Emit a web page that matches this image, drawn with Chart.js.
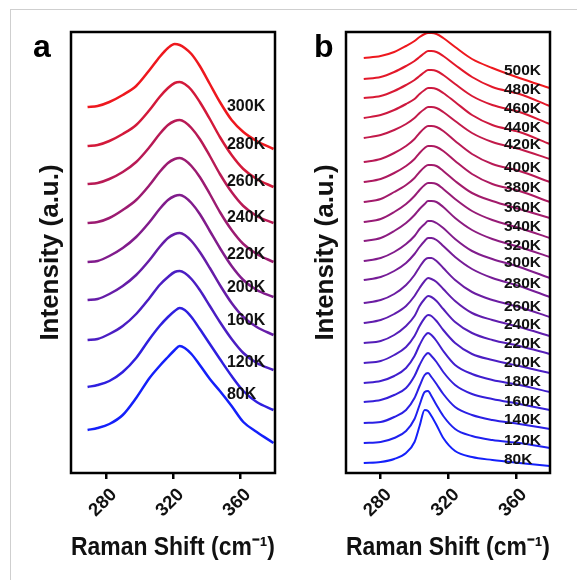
<!DOCTYPE html>
<html>
<head>
<meta charset="utf-8">
<script src="https://cdn.jsdelivr.net/npm/chart.js@4.4.1/dist/chart.umd.min.js"></script>
<style>
  html, body { margin: 0; padding: 0; background: #fff; }
  body { width: 577px; height: 580px; position: relative; overflow: hidden; font-family: "Liberation Sans", Arial, sans-serif; }
  #frame { position: absolute; left: 10px; top: 9px; width: 600px; height: 600px; border: 1px solid #cfcfcf; }
  canvas { position: absolute; top: 0; }
  #chartA { left: 0; }
  #chartB { left: 290px; }
  .panel { position: absolute; font-weight: bold; font-size: 32px; line-height: 1; color: #000; }
</style>
</head>
<body>
<div id="frame"></div>
<canvas id="chartA" width="290" height="580"></canvas>
<canvas id="chartB" width="287" height="580"></canvas>
<div class="panel" style="left:33px; top:30px;">a</div>
<div class="panel" style="left:314px; top:30px;">b</div>

<script>
// --- Data: panel a (Raman shift grid, cm-1) ---
const xA = [269, 275, 282, 290, 298, 306, 312, 317, 321, 324, 327, 331, 336, 342, 348, 355, 362, 370, 380];
const tempsA = ['80K', '120K', '160K', '200K', '220K', '240K', '260K', '280K', '300K'];
const a80  = [43, 45, 49, 58, 75, 95, 107, 116, 123, 127, 125, 119, 108, 94, 82, 67, 51, 41, 30];
const a120 = [86, 88, 92, 101, 115, 134, 147, 156, 162, 165, 163, 156, 144, 129, 114, 97, 82, 71, 63];
const a160 = [133, 134, 139, 147, 159, 175, 188, 196, 201, 202, 200, 194, 183, 167, 151, 134, 120, 110, 103];
const a200 = [173, 174, 179, 187, 198, 213, 226, 235, 239, 240, 238, 232, 221, 205, 188, 170, 156, 146, 138];
const a220 = [211, 212, 217, 225, 236, 251, 264, 273, 277, 278, 276, 270, 259, 242, 225, 207, 193, 183, 176];
const a240 = [250, 251, 255, 263, 273, 288, 301, 310, 314, 315, 313, 307, 296, 279, 261, 243, 229, 219, 211];
const a260 = [289, 290, 294, 301, 311, 326, 339, 348, 352, 353, 351, 345, 334, 317, 299, 281, 267, 257, 250];
const a280 = [327, 328, 332, 339, 348, 363, 376, 385, 390, 391, 389, 383, 371, 354, 336, 318, 304, 294, 286];
const a300 = [366, 367, 371, 378, 387, 403, 416, 425, 429, 428, 425, 419, 407, 389, 371, 353, 341, 332, 324];
const seriesA = [a80, a120, a160, a200, a220, a240, a260, a280, a300];
const labelYA = [78, 110, 152, 185, 218, 255, 291, 328, 366];

// --- Data: panel b ---
const xB = [270, 280, 288, 295, 300, 303, 306, 308, 310, 313, 317, 324, 334, 346, 362, 380];
const tempsB = ['80K', '120K', '140K', '160K', '180K', '200K', '220K', '240K', '260K', '280K', '300K',
  '320K', '340K', '360K', '380K', '400K', '420K', '440K', '460K', '480K', '500K'];
const b80  = [10, 11, 14, 20, 31, 47, 63, 62, 57, 48, 35, 22, 16, 13, 10, 7];
const b120 = [30, 31, 35, 42, 54, 68, 81, 82, 77, 68, 57, 44, 37, 33, 30, 25];
const b140 = [50, 51, 56, 63, 75, 87, 98, 100, 96, 89, 79, 66, 58, 53, 49, 44];
const b160 = [71, 73, 78, 85, 97, 108, 117, 120, 117, 111, 101, 88, 79, 74, 69, 63];
const b180 = [90, 92, 97, 105, 117, 128, 137, 140, 138, 132, 122, 108, 99, 93, 88, 81];
const b200 = [110, 112, 118, 126, 137, 147, 155, 158, 157, 152, 143, 130, 119, 113, 107, 100];
const b220 = [130, 132, 138, 147, 157, 167, 174, 177, 176, 172, 164, 151, 140, 133, 127, 119];
const b240 = [150, 153, 159, 167, 177, 185, 192, 195, 194, 191, 184, 172, 160, 153, 146, 137];
const b260 = [170, 173, 179, 188, 198, 206, 213, 215, 215, 212, 205, 193, 181, 173, 166, 156];
const b280 = [193, 196, 202, 210, 219, 226, 232, 235, 235, 233, 227, 216, 204, 195, 187, 176];
const b300 = [212, 215, 221, 229, 237, 244, 249, 252, 252, 250, 245, 234, 222, 214, 206, 195];
const b320 = [232, 235, 242, 250, 258, 264, 269, 272, 272, 271, 266, 255, 243, 234, 226, 216];
const b340 = [251, 254, 261, 269, 277, 283, 288, 290, 290, 289, 284, 274, 262, 253, 245, 235];
const b360 = [271, 274, 281, 288, 295, 301, 306, 308, 308, 307, 302, 292, 280, 272, 264, 255];
const b380 = [291, 294, 300, 307, 314, 320, 325, 327, 327, 326, 322, 312, 299, 289, 282, 271];
const b400 = [311, 314, 320, 327, 334, 340, 345, 347, 347, 346, 342, 332, 319, 309, 302, 291];
const b420 = [335, 338, 343, 349, 355, 360, 364, 366, 366, 365, 361, 352, 340, 331, 324, 314];
const b440 = [355, 358, 363, 369, 374, 379, 383, 385, 385, 384, 380, 371, 358, 348, 341, 329];
const b460 = [375, 377, 382, 388, 393, 397, 401, 403, 403, 402, 398, 389, 377, 368, 361, 349];
const b480 = [394, 396, 401, 407, 412, 416, 420, 422, 422, 421, 417, 408, 396, 386, 379, 367];
const b500 = [415, 417, 421, 427, 432, 436, 439, 440, 440, 439, 435, 426, 414, 405, 395, 385];
const seriesB = [b80, b120, b140, b160, b180, b200, b220, b240, b260, b280, b300,
  b320, b340, b360, b380, b400, b420, b440, b460, b480, b500];
const labelYB = [13, 32, 53, 71, 91, 110, 129, 148, 166, 189, 210, 227, 246, 265, 285, 305, 328, 345, 364, 383, 402];

const xTicks = [280, 320, 360];

const FONT = '"Liberation Sans", Arial, sans-serif';
const BLUE = [20, 32, 250];
const RED = [238, 24, 30];

function mixColor(t) {
  const c = BLUE.map((b, i) => Math.round(b + (RED[i] - b) * t));
  return `rgb(${c[0]},${c[1]},${c[2]})`;
}

// --- Frame + temperature labels ---
const panelPlugin = {
  id: 'panelDecor',
  afterDraw(chart, args, opts) {
    const { ctx, chartArea: a, scales: { x, y } } = chart;
    ctx.save();
    ctx.strokeStyle = '#000';
    ctx.lineWidth = 2.5;
    ctx.strokeRect(a.left, a.top, a.right - a.left, a.bottom - a.top);
    ctx.fillStyle = '#111';
    ctx.font = opts.font;
    ctx.textAlign = 'left';
    ctx.textBaseline = 'middle';
    const px = x.getPixelForValue(opts.labelX);
    opts.texts.forEach((t, i) => ctx.fillText(t, px, y.getPixelForValue(opts.ys[i])));
    ctx.restore();
  }
};

function makeChart(id, xs, series, temps, labelYs, cfg) {
  const n = series.length;
  const datasets = series.map((ys, i) => ({
    label: temps[i],
    data: ys.map((v, k) => ({ x: xs[k], y: v })),
    borderColor: mixColor(i / (n - 1)),
    borderWidth: cfg.lineWidth,
    pointRadius: 0,
    tension: 0.3,
    cubicInterpolationMode: 'monotone',
    fill: false
  }));

  return new Chart(document.getElementById(id), {
    type: 'line',
    data: { datasets },
    plugins: [panelPlugin],
    options: {
      responsive: false,
      animation: false,
      layout: { padding: { top: 32, right: cfg.padRight, left: 0, bottom: 0 } },
      plugins: {
        legend: { display: false },
        tooltip: { enabled: false },
        panelDecor: { texts: temps, ys: labelYs, labelX: cfg.labelX, font: `bold ${cfg.labelSize}px ${FONT}` }
      },
      scales: {
        x: {
          type: 'linear',
          min: cfg.xMin,
          max: cfg.xMax,
          afterBuildTicks: s => { s.ticks = xTicks.map(v => ({ value: v })); },
          afterFit: s => { s.height = 107; },
          border: { display: false },
          grid: { display: true, drawOnChartArea: false, drawTicks: true, tickLength: 6, lineWidth: 2.5, color: '#000' },
          ticks: { color: '#111', font: { family: FONT, size: 18.5, weight: 'bold' }, minRotation: 45, maxRotation: 45, padding: 5, labelOffset: 8 },
          title: { display: true, text: 'Raman Shift (cm⁻¹)', color: '#111', font: { family: FONT, size: 26, weight: 'bold' }, padding: { top: 0, bottom: 17 } }
        },
        y: {
          type: 'linear',
          min: 0,
          max: 441,
          afterFit: s => { s.width = cfg.yWidth; },
          border: { display: false },
          grid: { display: false },
          ticks: { display: false },
          title: { display: true, text: 'Intensity (a.u.)', color: '#111', font: { family: FONT, size: 26, weight: 'bold' }, padding: { top: cfg.yTitlePad, bottom: 0 } }
        }
      }
    }
  });
}

makeChart('chartA', xA, seriesA, tempsA, labelYA,
  { xMin: 259.1, xMax: 380.9, padRight: 15, yWidth: 71, yTitlePad: 35, labelX: 352.2, labelSize: 16, lineWidth: 2.5 });
makeChart('chartB', xB, seriesB, tempsB, labelYB,
  { xMin: 259.5, xMax: 380.1, padRight: 27, yWidth: 56, yTitlePad: 20, labelX: 352.9, labelSize: 15.5, lineWidth: 2 });
</script>
</body>
</html>
